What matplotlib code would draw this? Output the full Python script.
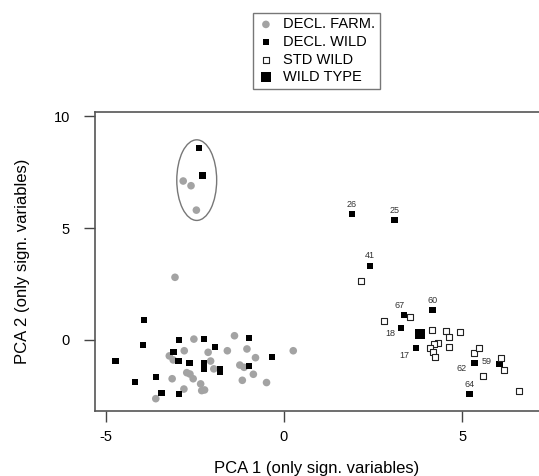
import matplotlib
matplotlib.use("Agg")
import matplotlib.pyplot as plt
from matplotlib.patches import Ellipse

plt.rcParams['font.family'] = ['Liberation Sans', 'DejaVu Sans']
plt.rcParams['axes.unicode_minus'] = False

# DECL. FARM. (grey circles)
farm_x = [-3.06, -2.53, -1.39, -2.80, -3.22, -3.11, -2.13, -1.59, -1.04, -0.80,
          0.26, -2.06, -1.24, -1.12, -1.97, -2.73, -2.64, -2.55, -3.14, -0.86,
          -1.17, -0.49, -2.34, -2.81, -2.31, -2.23, -3.60,
          -2.83, -2.61, -2.46]
farm_y = [2.80, 0.04, 0.19, -0.48, -0.71, -0.89, -0.55, -0.48, -0.40, -0.79,
          -0.48, -0.94, -1.12, -1.22, -1.29, -1.46, -1.52, -1.73, -1.73, -1.53,
          -1.80, -1.90, -1.96, -2.19, -2.26, -2.23, -2.62,
          7.10, 6.89, 5.80]

# DECL. WILD (small black squares)
wild_x = [-3.94, -3.96, -4.73, -2.94, -2.24, -0.99, -3.10, -1.93, -2.96, -2.65,
          -2.24, -2.24, -1.80, -1.80, -0.99, -0.33, -3.60, -4.18, -3.44, -2.94,
          -2.38, -2.29,
          1.90, 3.10, 2.41, 3.37, 4.17, 3.29, 3.70, 5.35, 6.05, 5.21]
wild_y = [0.91, -0.22, -0.95, 0.01, 0.06, 0.09, -0.55, -0.33, -0.94, -1.04,
          -1.04, -1.29, -1.29, -1.41, -1.15, -0.76, -1.64, -1.88, -2.38, -2.41,
          8.58, 7.35,
          5.61, 5.36, 3.32, 1.12, 1.34, 0.55, -0.36, -1.01, -1.07, -2.41]

# labelled wild points
lab_names = ["26", "25", "41", "67", "60", "18", "17", "62", "59", "64"]
lab_x = [1.90, 3.10, 2.41, 3.37, 4.17, 3.29, 3.70, 5.35, 6.05, 5.21]
lab_y = [5.61, 5.36, 3.32, 1.12, 1.34, 0.55, -0.36, -1.01, -1.07, -2.41]
lab_off = [(0, 7), (0, 7), (0, 7), (-3, 7), (0, 7), (-8, -4), (-8, -5),
           (-9, -4), (-9, 2), (0, 7)]

# STD WILD (open squares)
std_x = [2.16, 2.82, 3.54, 4.15, 4.54, 4.64, 4.94, 4.62, 4.33, 4.22,
         4.10, 4.17, 4.25, 5.34, 5.48, 6.10, 6.17, 5.60, 6.61]
std_y = [2.63, 0.86, 1.04, 0.45, 0.42, 0.12, 0.36, -0.30, -0.15, -0.19,
         -0.34, -0.52, -0.74, -0.60, -0.37, -0.79, -1.34, -1.61, -2.26]

# WILD TYPE
wt_x = [3.82]
wt_y = [0.27]

fig = plt.figure(figsize=(5.39, 4.76), dpi=100)
ax = fig.add_axes([0.176, 0.1366, 0.824, 0.628])

ax.scatter(farm_x, farm_y, s=30, c='#a3a3a3', edgecolors='none', label='DECL. FARM.')
ax.scatter(wild_x, wild_y, s=20, c='black', marker='s', edgecolors='none', label='DECL. WILD')
ax.scatter(std_x, std_y, s=20, facecolors='white', edgecolors='#222222', marker='s',
           linewidths=0.8, label='STD WILD')
ax.scatter(wt_x, wt_y, s=50, c='black', marker='s', edgecolors='none', label='WILD TYPE')

for n, x, y, off in zip(lab_names, lab_x, lab_y, lab_off):
    ax.annotate(n, (x, y), xytext=off, textcoords='offset points', fontsize=6.5,
                ha='center', va='center', color='#333333')

ax.add_patch(Ellipse((-2.45, 7.14), 1.12, 3.6, fill=False, edgecolor='#777777', lw=1))

ax.set_xlim(-5.31, 7.16)
ax.set_ylim(-3.17, 10.18)
ax.set_xticks([-5, 0, 5])
ax.set_yticks([0, 5, 10])
ax.tick_params(length=8, width=1, color='#444444', labelsize=10.5)
ax.tick_params(axis='x', pad=6)
ax.tick_params(axis='y', pad=10)
for sp in ['left', 'bottom', 'top']:
    ax.spines[sp].set_color('#555555')
    ax.spines[sp].set_linewidth(1.2)
ax.spines['right'].set_visible(False)

ax.set_xlabel('PCA 1 (only sign. variables)', fontsize=12, labelpad=12)
ax.set_ylabel('PCA 2 (only sign. variables)', fontsize=12, labelpad=17)

leg = fig.legend(loc='upper left', bbox_to_anchor=(0.469, 0.973), fontsize=10.5,
                 frameon=True, fancybox=False, handletextpad=0.6, labelspacing=0.25,
                 borderpad=0.3, handlelength=1.2, borderaxespad=0)
leg.get_frame().set_edgecolor('#555555')
leg.get_frame().set_linewidth(1.0)

fig.savefig('out.png', dpi=100)
